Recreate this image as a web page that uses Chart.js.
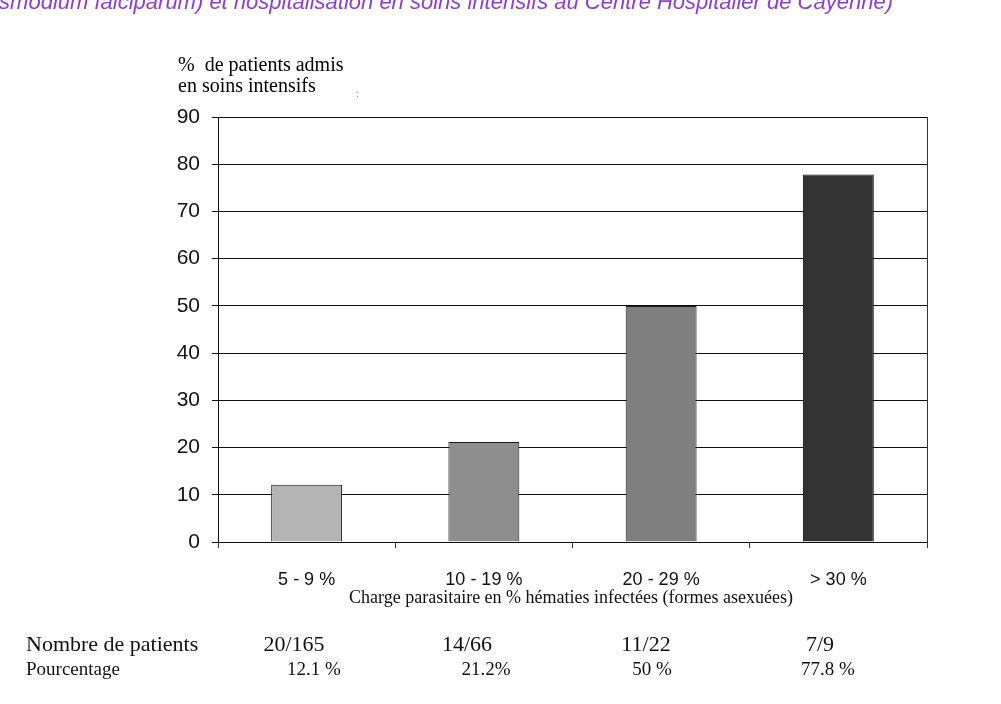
<!DOCTYPE html>
<html>
<head>
<meta charset="utf-8">
<script src="https://cdn.jsdelivr.net/npm/chart.js@4"></script>
<style>
  body { margin: 0; background: #fff; }
  #wrap { position: relative; width: 1001px; height: 704px; overflow: hidden; }
  canvas { position: absolute; left: 0; top: 0; }
  .t { position: absolute; white-space: nowrap; color: #111; }
  .serif { font-family: "Liberation Serif", "Times New Roman", serif; }
  .c { transform: translateX(-50%); }
</style>
</head>
<body>
<div id="wrap">
  <canvas id="chart" width="1001" height="704"></canvas>
  <div class="t" style="right:108px; top:-11px; font: italic 22px 'Liberation Sans', Arial, sans-serif; color:#8a3fd4;">Plasmodium falciparum) et hospitalisation en soins intensifs au Centre Hospitalier de Cayenne)</div>
  <div class="t serif" style="left:178px; top:54px; font-size:20px; line-height:21px; color:#000;">%&nbsp; de patients admis<br>en soins intensifs</div>
  <div class="t serif" style="left:356px; top:88px; font-size:10px; color:#888;">:</div>
  <div class="t serif c" style="left:571px; top:587px; font-size:18px;">Charge parasitaire en % hématies infectées (formes asexuées)</div>
  <div id="table"></div>
</div>
<script>
const categories = ['5 - 9 %', '10 - 19 %', '20 - 29 %', '> 30 %'];
const admittedPct = [12.1, 21.2, 50, 77.8];
const barColors = ['#b4b4b4', '#8e8e8e', '#7f7f7f', '#333333'];
const yTicks = [0, 10, 20, 30, 40, 50, 60, 70, 80, 90];

const nombreLabel = 'Nombre de patients';
const nombres = ['20/165', '14/66', '11/22', '7/9'];
const pourcentLabel = 'Pourcentage';
const pourcentages = ['12.1 %', '21.2%', '50 %', '77.8 %'];

// table under the chart
const table = document.getElementById('table');
const row1X = [294, 467, 646, 820];
const row2X = [314, 486, 652, 828];
function addText(txt, x, y, size, centered) {
  const d = document.createElement('div');
  d.className = 't serif' + (centered ? ' c' : '');
  d.style.left = x + 'px';
  d.style.top = y + 'px';
  d.style.fontSize = size + 'px';
  d.textContent = txt;
  table.appendChild(d);
}
addText(nombreLabel, 26, 631, 22, false);
addText(pourcentLabel, 26, 658, 19, false);
nombres.forEach((n, i) => addText(n, row1X[i], 631, 22, true));
pourcentages.forEach((p, i) => addText(p, row2X[i], 658, 19, true));

// right edge of the plot area, with a small tick under it
const rightBorder = {
  id: 'rightBorder',
  afterDraw(c) {
    const a = c.chartArea;
    const ctx = c.ctx;
    ctx.save();
    ctx.strokeStyle = '#333';
    ctx.lineWidth = 1;
    ctx.beginPath();
    ctx.moveTo(Math.round(a.right) + 0.5, a.top);
    ctx.lineTo(Math.round(a.right) + 0.5, a.bottom + 6);
    ctx.stroke();
    ctx.restore();
  }
};

new Chart(document.getElementById('chart'), {
  type: 'bar',
  data: {
    labels: categories,
    datasets: [{
      data: admittedPct,
      backgroundColor: barColors,
      borderColor: '#1a1a1a',
      borderWidth: 1,
      barPercentage: 0.4,
      categoryPercentage: 1
    }]
  },
  options: {
    responsive: false,
    animation: false,
    layout: { padding: { top: 117, right: 74, left: 0, bottom: 0 } },
    plugins: { legend: { display: false }, tooltip: { enabled: false } },
    scales: {
      x: {
        offset: true,
        grid: { offset: true, drawOnChartArea: false, drawTicks: true, tickLength: 6, color: '#333' },
        border: { color: '#111', width: 1 },
        ticks: { color: '#111', padding: 21, font: { family: 'Liberation Sans', size: 18 } },
        afterFit(s) { s.height = 162; }
      },
      y: {
        min: 0,
        max: 90,
        afterBuildTicks(s) { s.ticks = yTicks.map(v => ({ value: v })); },
        grid: { color: '#111', lineWidth: 1, tickLength: 6 },
        border: { color: '#111', width: 1 },
        ticks: { color: '#111', padding: 12, font: { family: 'Liberation Sans', size: 21 } },
        afterFit(s) { s.width = 218; }
      }
    }
  },
  plugins: [rightBorder]
});
</script>
</body>
</html>
